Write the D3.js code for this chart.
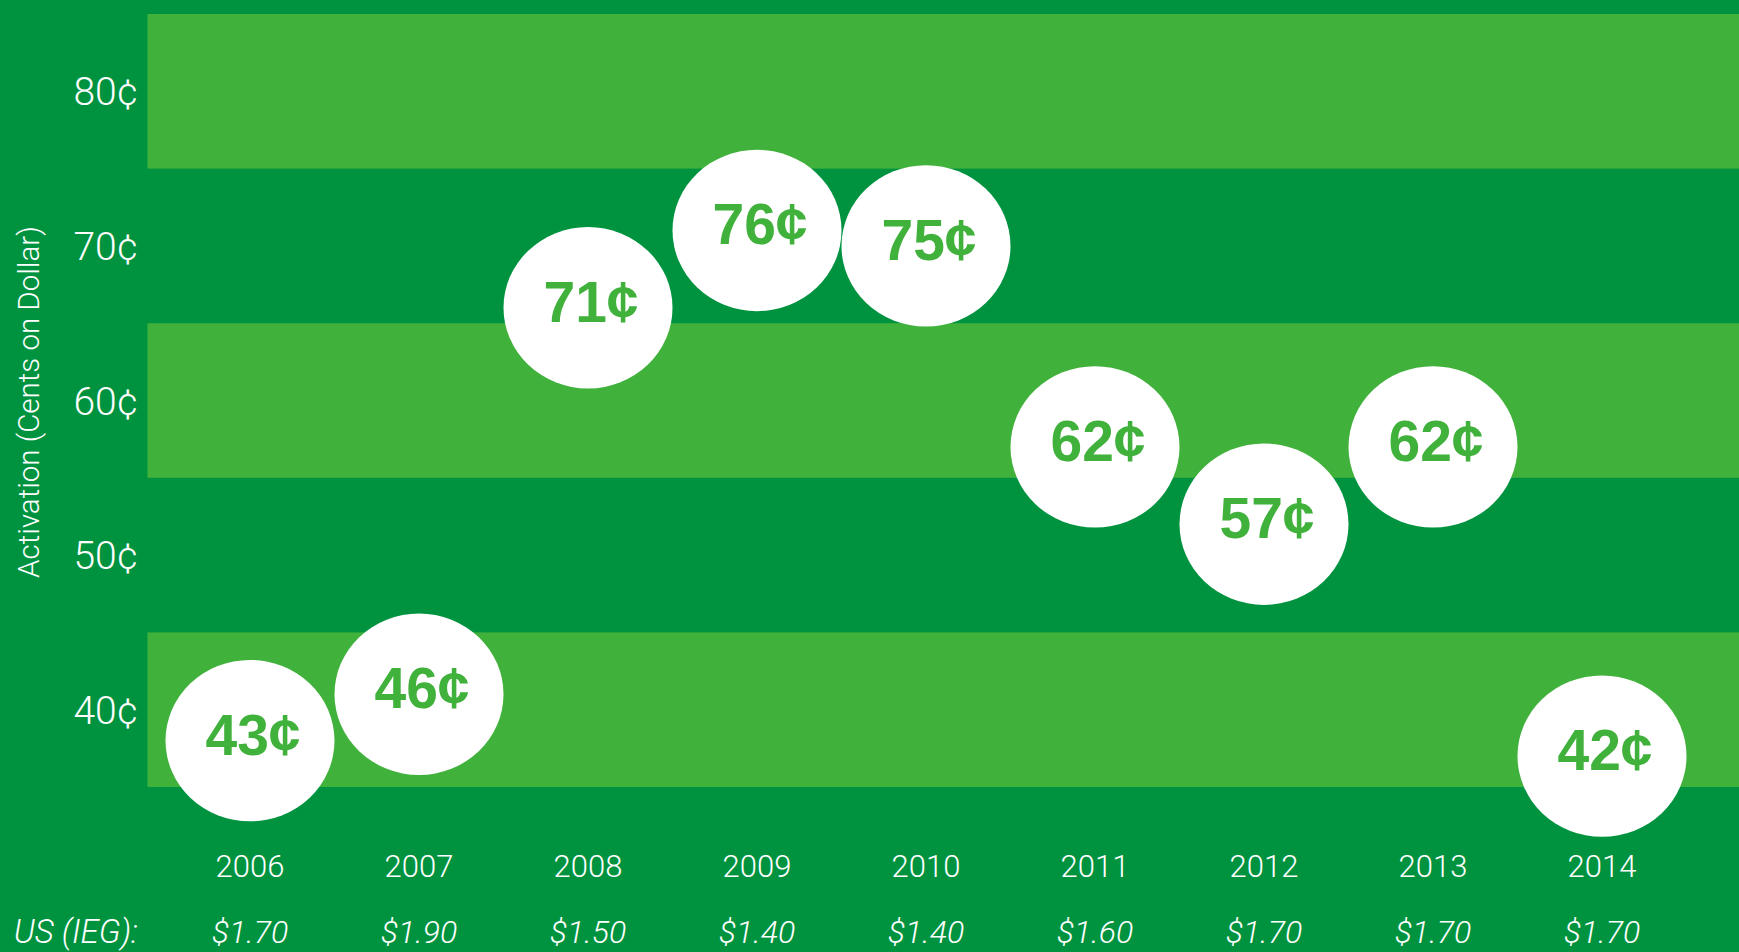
<!DOCTYPE html>
<html>
<head>
<meta charset="utf-8">
<script src="https://cdn.jsdelivr.net/npm/d3@7"></script>
<style>
  html, body { margin: 0; padding: 0; background: #00933F; }
  svg { display: block; }
</style>
</head>
<body>
<svg id="chart" width="1739" height="952"></svg>
<script>
// ---- data ----
const years = ["2006", "2007", "2008", "2009", "2010", "2011", "2012", "2013", "2014"];
const activation = [43, 46, 71, 76, 75, 62, 57, 62, 42];          // cents on the dollar
const usIEG = ["$1.70", "$1.90", "$1.50", "$1.40", "$1.40", "$1.60", "$1.70", "$1.70", "$1.70"];
const yTicks = [80, 70, 60, 50, 40];      // band labels (each band spans label .. label+10)
const lightBands = [80, 60, 40];          // bands drawn in the lighter green
const yTitle = "Activation (Cents on Dollar)";
const rowLabel = "US (IEG):";

// ---- styles ----
const DARK = "#00933F";
const LIGHT = "#40B13B";
const W = 1739, H = 952;
const lightFont = "'Helvetica Neue', Roboto, 'Liberation Sans', Arial, sans-serif";
const boldFont = "'Liberation Sans', Arial, Helvetica, sans-serif";

const svg = d3.select("#chart");

svg.append("rect").attr("width", W).attr("height", H).attr("fill", DARK);

const y = d3.scaleLinear().domain([40, 90]).range([787, 14]);
const x = d3.scalePoint().domain(years).range([250, 1602]);
const bandLeft = 147.5;

// background bands
svg.append("g").selectAll("rect")
  .data(lightBands)
  .join("rect")
  .attr("x", bandLeft)
  .attr("width", W - bandLeft)
  .attr("y", d => y(d + 10))
  .attr("height", d => y(d) - y(d + 10))
  .attr("fill", LIGHT);

// y tick labels (centered in their band)
svg.append("g").selectAll("text")
  .data(yTicks)
  .join("text")
  .attr("x", 138)
  .attr("y", d => y(d + 5))
  .attr("dy", "0.36em")
  .attr("text-anchor", "end")
  .attr("fill", "#fff")
  .attr("font-family", lightFont)
  .attr("font-weight", 300)
  .attr("font-size", 39)
  .text(d => d + "¢");

// y title
svg.append("text")
  .attr("transform", "translate(39,402) rotate(-90)")
  .attr("text-anchor", "middle")
  .attr("fill", "#fff")
  .attr("font-family", lightFont)
  .attr("font-weight", 300)
  .attr("font-size", 29.5)
  .text(yTitle);

// bubbles
const pts = years.map((yr, i) => ({ year: yr, v: activation[i] }));
const bub = svg.append("g").selectAll("g")
  .data(pts)
  .join("g")
  .attr("transform", d => `translate(${x(d.year)},${y(d.v)})`);

bub.append("ellipse")
  .attr("rx", 84.5)
  .attr("ry", 80.7)
  .attr("fill", "#fff");

bub.append("text")
  .attr("x", 3)
  .attr("y", 14)
  .attr("text-anchor", "middle")
  .attr("fill", LIGHT)
  .attr("font-family", boldFont)
  .attr("font-weight", 700)
  .attr("font-size", 57)
  .text(d => d.v + "¢");

// year labels
svg.append("g").selectAll("text")
  .data(years)
  .join("text")
  .attr("x", d => x(d))
  .attr("y", 877)
  .attr("text-anchor", "middle")
  .attr("fill", "#fff")
  .attr("font-family", lightFont)
  .attr("font-weight", 300)
  .attr("font-size", 31)
  .text(d => d);

// US (IEG) row
svg.append("text")
  .attr("x", 138)
  .attr("y", 943)
  .attr("text-anchor", "end")
  .attr("fill", "#fff")
  .attr("font-family", lightFont)
  .attr("font-weight", 300)
  .attr("font-style", "italic")
  .attr("font-size", 33)
  .text(rowLabel);

svg.append("g").selectAll("text")
  .data(usIEG)
  .join("text")
  .attr("x", (d, i) => x(years[i]))
  .attr("y", 943)
  .attr("text-anchor", "middle")
  .attr("fill", "#fff")
  .attr("font-family", lightFont)
  .attr("font-weight", 300)
  .attr("font-style", "italic")
  .attr("font-size", 32)
  .text(d => d);
</script>
</body>
</html>
